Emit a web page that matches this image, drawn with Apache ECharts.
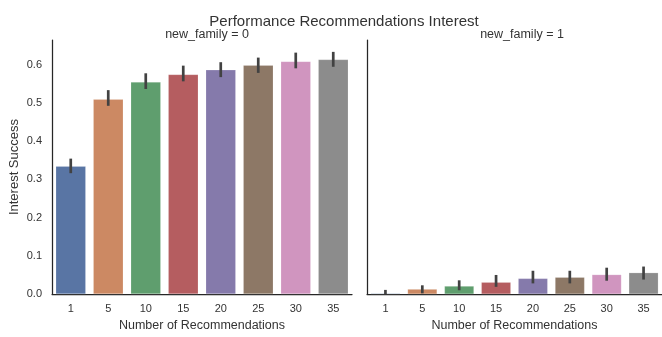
<!DOCTYPE html>
<html>
<head>
<meta charset="utf-8">
<script src="https://cdn.jsdelivr.net/npm/echarts@6/dist/echarts.min.js"></script>
<style>
  html, body { margin: 0; padding: 0; background: #fff; }
  #chart { width: 662px; height: 337px; }
</style>
</head>
<body>
<div id="chart"></div>
<script>
// Number of recommendations shown (x categories)
const categories = ['1', '5', '10', '15', '20', '25', '30', '35'];

// Mean interest success per panel
const meanFamily0 = [0.334, 0.509, 0.554, 0.574, 0.586, 0.598, 0.608, 0.613];
const meanFamily1 = [0.002, 0.013, 0.021, 0.031, 0.041, 0.044, 0.051, 0.056];

// Confidence interval bounds per panel
const lowFamily0 = [0.316, 0.492, 0.536, 0.556, 0.567, 0.578, 0.590, 0.594];
const highFamily0 = [0.354, 0.533, 0.577, 0.597, 0.606, 0.618, 0.631, 0.633];
const lowFamily1 = [0.000, 0.002, 0.010, 0.019, 0.028, 0.028, 0.035, 0.038];
const highFamily1 = [0.011, 0.023, 0.036, 0.050, 0.061, 0.061, 0.069, 0.072];

const panelTitles = ['new_family = 0', 'new_family = 1'];

// Desaturated "deep" palette, one colour per category
const palette = ['#5975a4', '#cc8963', '#5f9e6e', '#b55d60', '#857aab', '#8d7866', '#d095bf', '#8c8c8c'];

const FONT = '"Liberation Sans", Arial, sans-serif';
const TEXT = '#333333';
const AXIS = '#262626';

function errorData(lo, hi) {
  return categories.map((c, i) => [i, lo[i], hi[i]]);
}

function renderErrorBar(params, api) {
  const top = api.coord([api.value(0), api.value(2)]);
  const bottom = api.coord([api.value(0), api.value(1)]);
  return {
    type: 'line',
    shape: { x1: top[0], y1: top[1], x2: bottom[0], y2: bottom[1] },
    style: { stroke: '#424242', lineWidth: 2.7, lineCap: 'butt' }
  };
}

function xAxisFor(gridIndex) {
  return {
    type: 'category',
    gridIndex: gridIndex,
    data: categories,
    boundaryGap: true,
    axisLine: { show: true, lineStyle: { color: AXIS, width: 1.25 } },
    axisTick: { show: false },
    axisLabel: { color: TEXT, fontFamily: FONT, fontSize: 11, margin: 9 },
    name: 'Number of Recommendations',
    nameLocation: 'middle',
    nameGap: 23,
    nameTextStyle: { color: TEXT, fontFamily: FONT, fontSize: 12.5 },
    splitLine: { show: false }
  };
}

function yAxisFor(gridIndex, showLabels) {
  return {
    type: 'value',
    gridIndex: gridIndex,
    min: 0,
    max: 0.664,
    interval: 0.1,
    axisLine: { show: true, lineStyle: { color: AXIS, width: 1.25 } },
    axisTick: { show: false },
    splitLine: { show: false },
    axisLabel: {
      show: showLabels,
      color: TEXT,
      fontFamily: FONT,
      fontSize: 11,
      margin: 10,
      showMaxLabel: false,
      formatter: v => (Math.abs(v * 10 - Math.round(v * 10)) < 1e-6 ? v.toFixed(1) : '')
    },
    name: showLabels ? 'Interest Success' : '',
    nameLocation: 'middle',
    nameGap: 31,
    nameTextStyle: { color: TEXT, fontFamily: FONT, fontSize: 13 }
  };
}

function barSeries(idx, values) {
  return {
    type: 'bar',
    xAxisIndex: idx,
    yAxisIndex: idx,
    data: values.map((v, i) => ({ value: v, itemStyle: { color: palette[i] } })),
    barWidth: '80%',
    itemStyle: { borderColor: 'rgba(255,255,255,0.35)', borderWidth: 0.5 },
    silent: true,
    animation: false
  };
}

function errorSeries(idx, lo, hi) {
  return {
    type: 'custom',
    xAxisIndex: idx,
    yAxisIndex: idx,
    data: errorData(lo, hi),
    encode: { x: 0, y: [1, 2] },
    renderItem: renderErrorBar,
    z: 5,
    silent: true,
    animation: false
  };
}

const chart = echarts.init(document.getElementById('chart'), null, { renderer: 'canvas' });

chart.setOption({
  backgroundColor: '#ffffff',
  animation: false,
  title: [
    {
      text: 'Performance Recommendations Interest',
      left: 339, top: 9, textAlign: 'center',
      textStyle: { color: TEXT, fontFamily: FONT, fontSize: 15, fontWeight: 'normal' }
    },
    {
      text: panelTitles[0],
      left: 202, top: 23, textAlign: 'center',
      textStyle: { color: TEXT, fontFamily: FONT, fontSize: 12.5, fontWeight: 'normal' }
    },
    {
      text: panelTitles[1],
      left: 517, top: 23, textAlign: 'center',
      textStyle: { color: TEXT, fontFamily: FONT, fontSize: 12.5, fontWeight: 'normal' }
    }
  ],
  grid: [
    { left: 52, top: 40, width: 300, height: 259, containLabel: false },
    { left: 367, top: 40, width: 300, height: 259, containLabel: false }
  ],
  xAxis: [xAxisFor(0), xAxisFor(1)],
  yAxis: [yAxisFor(0, true), yAxisFor(1, false)],
  series: [
    barSeries(0, meanFamily0),
    errorSeries(0, lowFamily0, highFamily0),
    barSeries(1, meanFamily1),
    errorSeries(1, lowFamily1, highFamily1)
  ]
});
</script>
</body>
</html>
